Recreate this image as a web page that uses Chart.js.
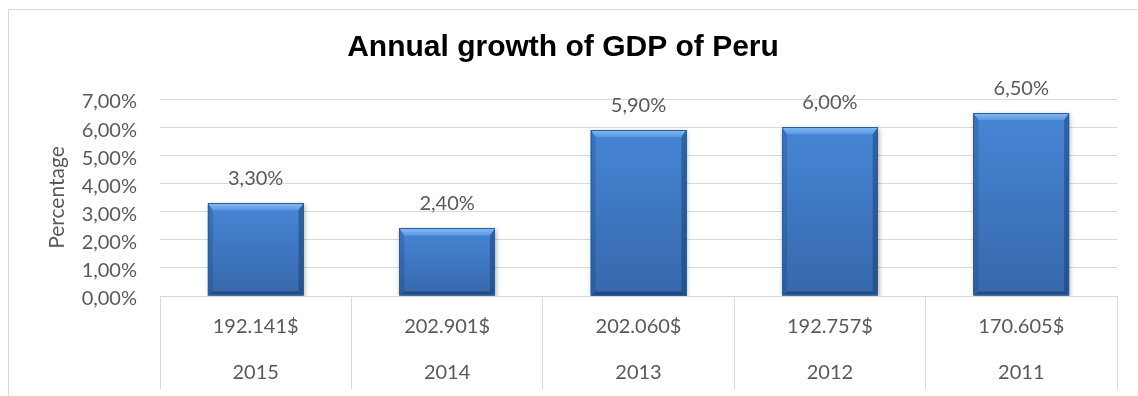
<!DOCTYPE html>
<html>
<head>
<meta charset="utf-8">
<title>Annual growth of GDP of Peru</title>
<script src="https://cdn.jsdelivr.net/npm/chart.js@4.4.1/dist/chart.umd.min.js"></script>
<style>
  html, body { margin: 0; padding: 0; background: #ffffff; overflow: hidden; }
  #frame {
    position: absolute; left: 8px; top: 9px;
    width: 1138px; height: 386px;
    border-left: 1px solid #d9d9d9; border-top: 1px solid #d9d9d9;
    background: #ffffff;
  }
  canvas { display: block; }
</style>
</head>
<body>
<div id="frame"><canvas id="chart" width="1138" height="386"></canvas></div>
<script>
// Years shown on the second row of the category axis
const years = ['2015', '2014', '2013', '2012', '2011'];
// GDP figures shown on the first row of the category axis
const gdpLabels = ['192.141$', '202.901$', '202.060$', '192.757$', '170.605$'];
// Annual GDP growth, in percent
const growth = [3.3, 2.4, 5.9, 6.0, 6.5];
// Value axis range
const yMin = 0;
const yMax = 7;
const yStep = 1;

const pct = v => Number(v).toFixed(2).replace('.', ',') + '%';
const categories = years.map((y, i) => [gdpLabels[i], y]);

const textGrey = '#595959';
const gridGrey = '#d9d9d9';

// Soft drop shadow under the bars, then a bevelled finish on top of each bar
const bevelBars = {
  id: 'bevelBars',
  beforeDatasetsDraw(chart) {
    const ctx = chart.ctx;
    ctx.save();
    ctx.shadowColor = 'rgba(0,0,0,0.35)';
    ctx.shadowBlur = 5;
    ctx.shadowOffsetX = 1;
    ctx.shadowOffsetY = 2;
  },
  afterDatasetsDraw(chart) {
    const ctx = chart.ctx;
    ctx.restore();
    const meta = chart.getDatasetMeta(0);
    meta.data.forEach(bar => {
      const p = bar.getProps(['x', 'y', 'base', 'width'], true);
      const l = p.x - p.width / 2, r = p.x + p.width / 2;
      const t = Math.min(p.y, p.base), b = Math.max(p.y, p.base);
      const bs = 5, bt = 7, bb = 4;
      ctx.save();
      // body
      const g = ctx.createLinearGradient(0, t, 0, b);
      g.addColorStop(0, '#4686d6');
      g.addColorStop(1, '#3668ab');
      ctx.fillStyle = g;
      ctx.fillRect(l, t, r - l, b - t);
      // top bevel
      const gt = ctx.createLinearGradient(0, t, 0, t + bt);
      gt.addColorStop(0, '#86bbf2');
      gt.addColorStop(1, '#5b98e2');
      ctx.fillStyle = gt;
      ctx.beginPath();
      ctx.moveTo(l, t); ctx.lineTo(r, t); ctx.lineTo(r - bs, t + bt); ctx.lineTo(l + bs, t + bt);
      ctx.closePath(); ctx.fill();
      // left bevel
      ctx.fillStyle = 'rgba(25,60,110,0.25)';
      ctx.beginPath();
      ctx.moveTo(l, t); ctx.lineTo(l + bs, t + bt); ctx.lineTo(l + bs, b - bb); ctx.lineTo(l, b);
      ctx.closePath(); ctx.fill();
      // right bevel
      ctx.fillStyle = 'rgba(15,45,95,0.4)';
      ctx.beginPath();
      ctx.moveTo(r, t); ctx.lineTo(r - bs, t + bt); ctx.lineTo(r - bs, b - bb); ctx.lineTo(r, b);
      ctx.closePath(); ctx.fill();
      // bottom bevel
      ctx.fillStyle = 'rgba(10,35,80,0.45)';
      ctx.beginPath();
      ctx.moveTo(l, b); ctx.lineTo(l + bs, b - bb); ctx.lineTo(r - bs, b - bb); ctx.lineTo(r, b);
      ctx.closePath(); ctx.fill();
      // outline
      ctx.strokeStyle = '#2d5c98';
      ctx.lineWidth = 1;
      ctx.strokeRect(Math.round(l) + 0.5, Math.round(t) + 0.5, Math.round(r - l) - 1, Math.round(b - t) - 1);
      ctx.restore();
    });
  }
};

// Value labels above each bar
const valueLabels = {
  id: 'valueLabels',
  afterDatasetsDraw(chart) {
    const ctx = chart.ctx;
    const ds = chart.data.datasets[0];
    chart.getDatasetMeta(0).data.forEach((bar, i) => {
      ctx.save();
      ctx.font = '20px Lato';
      ctx.fillStyle = textGrey;
      ctx.textAlign = 'center';
      ctx.textBaseline = 'alphabetic';
      ctx.fillText(pct(ds.data[i]), bar.x, bar.y - 18);
      ctx.restore();
    });
  }
};

new Chart(document.getElementById('chart'), {
  type: 'bar',
  data: {
    labels: categories,
    datasets: [{
      data: growth,
      backgroundColor: '#3f7ccc',
      borderWidth: 0,
      categoryPercentage: 1,
      barPercentage: 0.5
    }]
  },
  options: {
    responsive: false,
    devicePixelRatio: 1,
    animation: false,
    layout: { padding: { left: 0, right: 30, top: 0, bottom: 0 } },
    plugins: {
      legend: { display: false },
      tooltip: { enabled: false },
      title: {
        display: true,
        text: 'Annual growth of GDP of Peru',
        color: '#000000',
        font: { family: '"Liberation Sans", Arial, sans-serif', size: 30, weight: 'bold', lineHeight: 1.2 },
        padding: { top: 20, bottom: 33 }
      }
    },
    scales: {
      x: {
        offset: true,
        border: { display: true, color: gridGrey, width: 1 },
        grid: {
          offset: true,
          drawOnChartArea: false,
          drawTicks: true,
          tickLength: 93,
          tickColor: gridGrey,
          color: gridGrey
        },
        ticks: {
          color: textGrey,
          font: { family: 'Lato', size: 20, lineHeight: 2.3 },
          padding: -85,
          maxRotation: 0,
          autoSkip: false
        },
        afterFit(scale) { scale.height = 100; }
      },
      y: {
        min: yMin,
        max: yMax,
        border: { display: false },
        grid: { color: gridGrey, lineWidth: 1, drawTicks: false },
        ticks: {
          stepSize: yStep,
          color: textGrey,
          font: { family: 'Lato', size: 20 },
          padding: 23,
          labelOffset: 3,
          callback: v => pct(v)
        },
        title: {
          display: true,
          text: 'Percentage',
          color: textGrey,
          font: { family: 'Lato', size: 21 },
          padding: { top: 36, bottom: 0 }
        },
        afterFit(scale) { scale.width = 151; }
      }
    }
  },
  plugins: [bevelBars, valueLabels]
});
</script>
</body>
</html>
